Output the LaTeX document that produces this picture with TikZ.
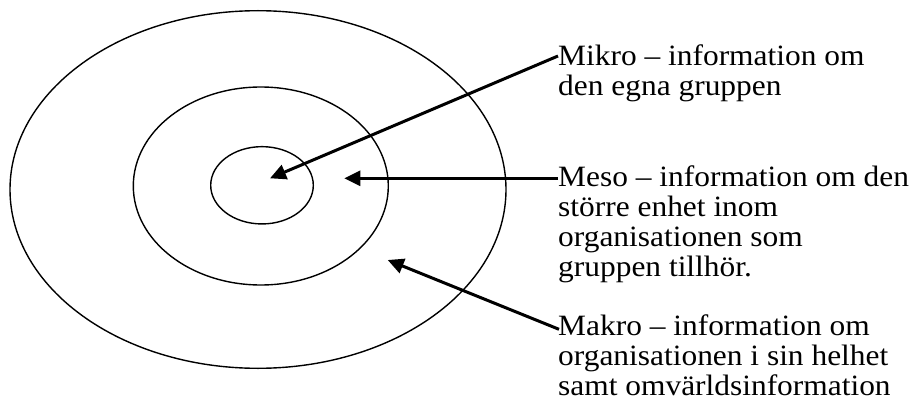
\documentclass[tikz,border=0pt]{standalone}
\usepackage{fontspec}
\setmainfont{Liberation Serif}
\usetikzlibrary{arrows.meta,shapes.geometric}
\newcommand{\lines}[1]{\scalebox{1.065}[1]{\vtop{\baselineskip=30pt\lineskiplimit=0pt #1}}}
\tikzset{
  ring/.style={draw, ellipse, line width=1.4pt, inner sep=0pt},
  arr/.style={line width=3pt, -{Triangle[length=16pt,width=15pt]}},
  lbl/.style={anchor=base west, inner sep=0pt, font=\fontsize{29.5}{30}\selectfont}
}
\begin{document}
\begin{tikzpicture}[x=1pt,y=-1pt]
\useasboundingbox (0,0) rectangle (913,401);
\node[ring, minimum width=496pt, minimum height=357.6pt] (outer) at (258,189.5) {};
\node[ring, minimum width=255pt, minimum height=198pt] (middle) at (260.8,186) {};
\node[ring, minimum width=102.6pt, minimum height=77.3pt] (inner) at (262,185.3) {};
\node[lbl] (mikro) at (558,66) {\lines{\hbox{Mikro -- information om}\hbox{den egna gruppen}}};
\node[lbl] (meso) at (558,186.7) {\lines{\hbox{Meso -- information om den}\hbox{större enhet inom}\hbox{organisationen som}\hbox{gruppen tillhör.}}};
\node[lbl] (makro) at (558,335.5) {\lines{\hbox{Makro -- information om}\hbox{organisationen i sin helhet}\hbox{samt omvärldsinformation}}};
\coordinate (mikroS) at (558,56);
\coordinate (mesoS) at (558,178.3);
\coordinate (makroS) at (559,329.3);
\coordinate (mikroT) at (270,178.3);
\coordinate (mesoT) at (344.3,178.3);
\coordinate (makroT) at (387.7,260);
\draw[arr] (mikroS) -- (mikroT);
\draw[arr] (mesoS) -- (mesoT);
\draw[arr] (makroS) -- (makroT);
\end{tikzpicture}
\end{document}
